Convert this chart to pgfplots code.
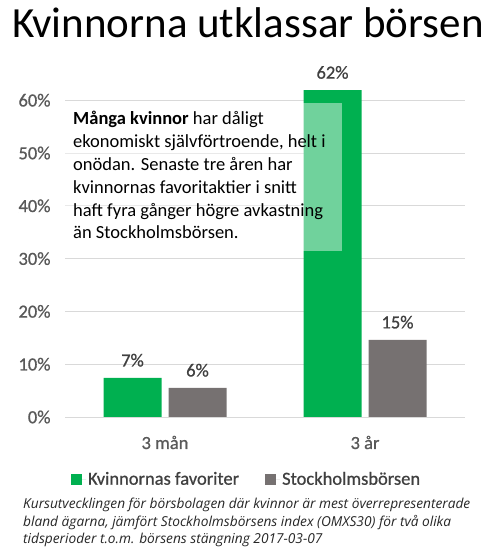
\documentclass[border=0pt]{standalone}
\usepackage{fontspec}
\setmainfont{Carlito}
\newfontfamily\capfont{Open Sans}
\newfontfamily\labfont[FakeBold=0.8]{Carlito}
\usepackage{pgfplots}
\pgfplotsset{compat=1.18}
\definecolor{cgreen}{HTML}{00B050}
\definecolor{cgray}{HTML}{767171}
\definecolor{cgrid}{HTML}{D9D9D9}
\definecolor{ctick}{HTML}{595959}
\definecolor{clab}{HTML}{404040}
\begin{document}
\begin{tikzpicture}
\useasboundingbox (0,0) rectangle (485bp,559bp);
% title
\node[anchor=base west, inner sep=0pt, font=\fontsize{43bp}{48bp}\selectfont] at (12bp,{559bp-38bp}) {Kvinnorna utklassar börsen};
\begin{axis}[
  at={(65bp,142bp)}, anchor=south west,
  scale only axis, width=400bp, height=369.6bp,
  xmin=-0.5, xmax=1.5, ymin=0, ymax=70,
  axis line style={draw=none},
  ybar=7bp, bar width=58bp,
  xtick={0,1}, xticklabels={3 mån, 3 år},
  ytick={0,10,...,60},
  yticklabel={\pgfmathprintnumber{\tick}\%},
  major tick length=0pt, tick style={draw=none},
  ymajorgrids, grid style={cgrid, line width=0.8bp},
  tick label style={font=\labfont\fontsize{18.5bp}{22bp}\selectfont},
  yticklabel style={color=ctick, anchor=east, xshift=-11bp},
  xticklabel style={color=ctick, anchor=base, yshift=-32bp},
  /pgf/number format/assume math mode=true,
  point meta=explicit symbolic,
  nodes near coords,
  nodes near coords style={font=\labfont\fontsize{18.5bp}{22bp}\selectfont, color=clab, anchor=base, yshift=11.5bp},
  legend columns=2,
  legend style={at={(0.454,-0.168)}, anchor=center, draw=none, fill=none,
    font=\labfont\fontsize{18.5bp}{22bp}\selectfont, text=clab,
    /tikz/every even column/.append style={column sep=24bp}},
  legend image code/.code={\fill[#1,draw=none] (0bp,-5.5bp) rectangle (11bp,5.5bp); \path (0bp,0bp) -- (15bp,0bp);},
]
\addplot[fill=cgreen, draw=none] coordinates {(0,7.4) [7\%] (1,61.9) [62\%]};
\addplot[fill=cgray, draw=none] coordinates {(0,5.5) [6\%] (1,14.6) [15\%]};
\legend{Kvinnornas favoriter, Stockholmsbörsen}
\end{axis}
% text box
\fill[white, opacity=0.44] (65bp,{559bp-103bp}) rectangle (342bp,{559bp-251bp});
\begin{scope}[every node/.style={anchor=base west, inner sep=0pt, font=\fontsize{18.5bp}{22bp}\selectfont}]
\node at (73bp,{559bp-125bp}) {\textbf{Många kvinnor} har dåligt};
\node at (73bp,{559bp-147.8bp}) {ekonomiskt självförtroende, helt i};
\node at (73bp,{559bp-170.6bp}) {onödan. Senaste tre åren har};
\node at (73bp,{559bp-193.4bp}) {kvinnornas favoritaktier i snitt};
\node at (73bp,{559bp-216.2bp}) {haft fyra gånger högre avkastning};
\node at (73bp,{559bp-239bp}) {än Stockholmsbörsen.};
\end{scope}
% caption
\begin{scope}[every node/.style={anchor=base west, inner sep=0pt, text={black!85}, font=\capfont\itshape\fontsize{13.7bp}{16bp}\selectfont}]
\node at (23bp,{559bp-509bp}) {Kursutvecklingen för börsbolagen där kvinnor är mest överrepresenterade};
\node at (23bp,{559bp-526bp}) {bland ägarna, jämfört Stockholmsbörsens index (OMXS30) för två olika};
\node at (23bp,{559bp-543.3bp}) {tidsperioder t.o.m. börsens stängning 2017-03-07};
\end{scope}
\end{tikzpicture}
\end{document}
